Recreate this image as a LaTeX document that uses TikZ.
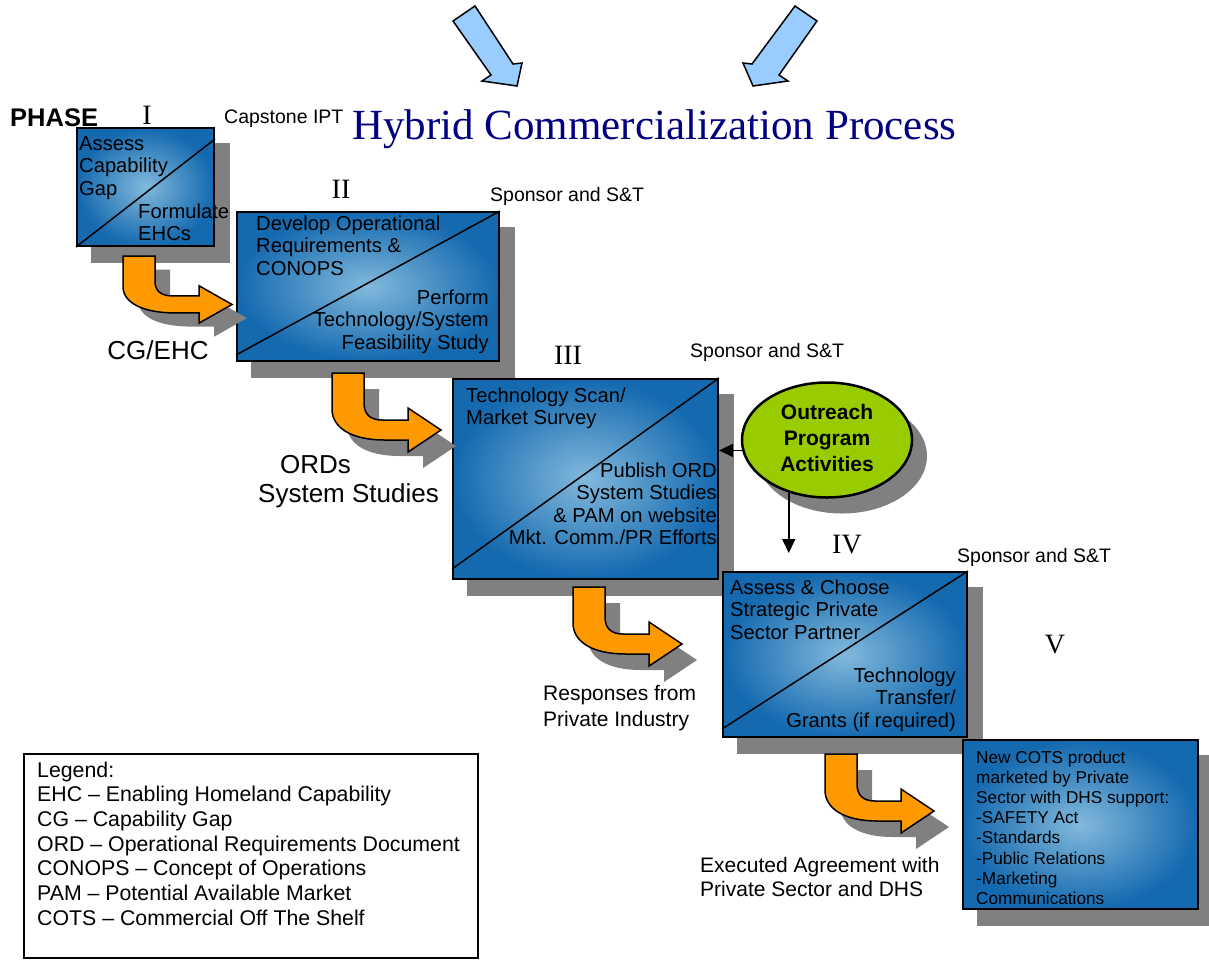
\documentclass[tikz,border=0pt]{standalone}
\usepackage{fontspec}
\setmainfont{Liberation Sans}
\newfontfamily\tnr{Liberation Serif}
\usetikzlibrary{arrows.meta,shapes.geometric,backgrounds}
\definecolor{boxdark}{RGB}{20,105,175}
\definecolor{boxlight}{RGB}{130,185,220}
\definecolor{shadowgray}{RGB}{128,128,128}
\definecolor{orangefill}{RGB}{255,153,0}
\definecolor{limefill}{RGB}{153,204,0}
\definecolor{skyfill}{RGB}{153,204,255}
\definecolor{titleblue}{RGB}{0,0,128}
\newcommand{\Lstack}[1]{\begin{tabular}[t]{@{}l@{}}#1\end{tabular}}
\newcommand{\Rstack}[1]{\begin{tabular}[t]{@{}r@{}}#1\end{tabular}}
\newcommand{\Cstack}[1]{\begin{tabular}{@{}c@{}}#1\end{tabular}}
\begin{document}
\begin{tikzpicture}[x=1pt,y=-1pt,
  phasebox/.style={rectangle,draw=black,line width=2pt,inner color=boxlight,outer color=boxdark,inner sep=0pt},
  diag/.style={draw=black,line width=1.5pt},
  btxt/.style={inner sep=0pt,font=\fontsize{20.2}{22.5}\selectfont},
  smalltxt/.style={inner sep=0pt,font=\fontsize{19.5}{22}\selectfont},
  bigtxt/.style={inner sep=0pt,font=\fontsize{26}{29}\selectfont},
  roman/.style={inner sep=0pt,font=\tnr\fontsize{28}{30}\selectfont},
  conn/.style={line width=1.5pt,-{Triangle[length=14pt,width=13pt]}},
  skyarrow/.style={fill=skyfill,draw=black,line width=1.5pt,line join=miter},
  bentarrow/.pic={
    \fill[shadowgray] (15,16) -- (47,16) -- (47,46) .. controls (47,57) and (53,63) .. (65,63) -- (91,63) -- (91,51) -- (124,73) -- (91,95) -- (91,83) -- (68,83) .. controls (33,83) and (15,70) .. (15,52) -- cycle;
    \draw[fill=orangefill,line width=1.5pt,line join=miter] (0,0) -- (32,0) -- (32,30) .. controls (32,41) and (38,47) .. (50,47) -- (76,47) -- (76,35) -- (109,57) -- (76,79) -- (76,67) -- (53,67) .. controls (18,67) and (0,54) .. (0,36) -- cycle;
  }]
\useasboundingbox (0,0) rectangle (1209,962);

% top sky-blue arrows
\draw[skyarrow] (453,21) -- (475,6) -- (513,64) -- (522,63) -- (517,86) -- (482,81) -- (491,75) -- cycle;
\draw[skyarrow] (817,21) -- (795,6) -- (752,64) -- (743,63) -- (753,86) -- (788,81) -- (779,75) -- cycle;

% title
\node[inner sep=0pt,anchor=base west,font=\tnr\fontsize{43}{46}\selectfont,text=titleblue] (title) at (352,139) {Hybrid Commercialization Process};

% labels
\node[inner sep=0pt,anchor=base west,font=\bfseries\fontsize{25.5}{28}\selectfont] (phase) at (10,126) {PHASE};
\node[roman,anchor=base] (r1) at (147,124) {I};
\node[roman,anchor=base] (r2) at (341,198) {II};
\node[roman,anchor=base] (r3) at (568,364) {III};
\node[roman,anchor=base] (r4) at (847,553) {IV};
\node[roman,anchor=base] (r5) at (1055,653) {V};
\node[smalltxt,anchor=base west] (cap) at (224,123) {Capstone IPT};
\node[smalltxt,anchor=base west] (sp2) at (490,201) {Sponsor and S\&T};
\node[smalltxt,anchor=base west] (sp3) at (690,357) {Sponsor and S\&T};
\node[smalltxt,anchor=base west] (sp4) at (957,562) {Sponsor and S\&T};

% phase boxes
\node[phasebox,minimum width=137pt,minimum height=118pt] (b1) at (145.5,187) {};
\node[phasebox,minimum width=262pt,minimum height=149pt] (b2) at (368,286.5) {};
\node[phasebox,minimum width=265pt,minimum height=200pt] (b3) at (585.5,479) {};
\node[phasebox,minimum width=244pt,minimum height=165pt] (b4) at (845,654.5) {};
\node[phasebox,minimum width=235pt,minimum height=169pt] (b5) at (1080.5,824.5) {};

\begin{scope}[on background layer]
  \fill[white] (0,0) rectangle (1209,962);
  \foreach \b in {b1,b2,b3,b4,b5}{
    \fill[shadowgray] ([xshift=15pt,yshift=-16pt]\b.south west) rectangle ([xshift=15pt,yshift=-16pt]\b.north east);
  }
  \fill[shadowgray] (842,456) ellipse [x radius=85, y radius=57.5];
\end{scope}

% diagonals
\draw[diag] (b1.south west) -- ([yshift=-12pt]b1.north east);
\draw[diag] ([yshift=7pt]b2.south west) -- (b2.north east);
\draw[diag] ([yshift=11pt]b3.south west) -- (b3.north east);
\draw[diag] ([yshift=9pt]b4.south west) -- (b4.north east);

% box texts
\node[btxt,anchor=base west] (t1a) at (79,150) {\Lstack{Assess\\Capability\\Gap}};
\node[btxt,anchor=base west] (t1b) at (138,218) {\Lstack{Formulate\\EHCs}};
\node[btxt,anchor=base west] (t2a) at (256,230) {\Lstack{Develop Operational\\Requirements \&\\CONOPS}};
\node[btxt,anchor=base east] (t2b) at (489,304) {\Rstack{Perform\\Technology/System\\Feasibility Study}};
\node[btxt,anchor=base west] (t3a) at (466,402) {\Lstack{Technology Scan/\\Market Survey}};
\node[btxt,anchor=base east] (t3b) at (717,477) {\Rstack{Publish ORD\\System Studies\\\& PAM on website\\Mkt. Comm./PR Efforts}};
\node[btxt,anchor=base west] (t4a) at (730,594) {\Lstack{Assess \& Choose\\Strategic Private\\Sector Partner}};
\node[btxt,anchor=base east] (t4b) at (956,682) {\Rstack{Technology\\Transfer/\\Grants (if required)}};
\begin{scope}
  \clip (965,742) rectangle (1196,903);
  \node[inner sep=0pt,anchor=base west,font=\fontsize{17.2}{20.2}\selectfont] (t5) at (976,763) {\Lstack{New COTS product\\marketed by Private\\Sector with DHS support:\\-SAFETY Act\\-Standards\\-Public Relations\\-Marketing\\Communications}};
\end{scope}

% outreach ellipse
\node[ellipse,draw=black,line width=2.5pt,fill=limefill,minimum width=170pt,minimum height=115pt,inner sep=0pt,font=\bfseries\fontsize{21}{26}\selectfont] (ell) at (827,440) {\Cstack{Outreach\\Program\\Activities}};
\coordinate (dn) at (789,553);
\draw[conn] (ell.187) -- (ell.187 -| b3.east);
\draw[conn] (ell.234) -- (ell.234 |- dn);

% bent orange arrows
\pic[yscale=0.85] at (123,256) {bentarrow};
\pic at (332,373) {bentarrow};
\pic at (573,587) {bentarrow};
\pic at (825,754) {bentarrow};

% arrow labels
\node[bigtxt,anchor=base] (lab1) at (158,359) {CG/EHC};
\node[bigtxt,anchor=base west] (lab2) at (258,473) {\Lstack{\hspace{22pt}ORDs\\System Studies}};
\node[inner sep=0pt,font=\fontsize{21}{26}\selectfont,anchor=base west] (lab3) at (543,700) {\Lstack{Responses from\\Private Industry}};
\node[inner sep=0pt,font=\fontsize{21}{24}\selectfont,anchor=base west] (lab4) at (700,872) {\Lstack{Executed Agreement with\\Private Sector and DHS}};

% legend
\node[draw=black,line width=1.5pt,minimum width=454pt,minimum height=204pt,anchor=north west,inner sep=0pt] (legbox) at (23,753) {};
\node[inner sep=0pt,font=\fontsize{21.3}{24.7}\selectfont,anchor=base west] (legtxt) at (37,777) {\Lstack{Legend:\\EHC -- Enabling Homeland Capability\\CG -- Capability Gap\\ORD -- Operational Requirements Document\\CONOPS -- Concept of Operations\\PAM -- Potential Available Market\\COTS -- Commercial Off The Shelf}};
\end{tikzpicture}
\end{document}
